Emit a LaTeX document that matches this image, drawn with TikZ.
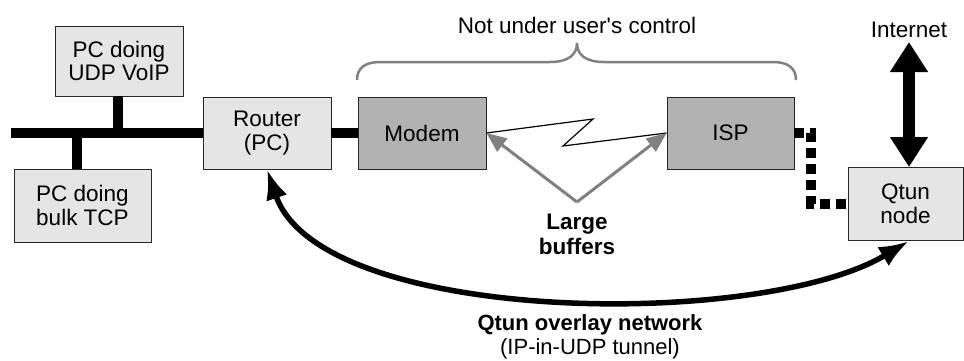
\documentclass[tikz,border=0pt]{standalone}
\usepackage{fontspec}
\setmainfont{Liberation Sans}
\usetikzlibrary{arrows.meta}
\begin{document}
\begin{tikzpicture}[x=1pt,y=-1pt,
  lbox/.style={draw=black!85, line width=0.8pt, fill=black!10, minimum width=128pt,
    minimum height=72pt, align=center, inner sep=0pt, font=\fontsize{22.5}{23.5}\selectfont},
  dbox/.style={lbox, fill=black!30},
  txt/.style={align=center, inner sep=0pt, font=\fontsize{22.5}{24}\selectfont},
  bus/.style={line width=10pt},
  grayarrow/.style={draw=black!50, line width=3pt, -{Triangle[length=20pt,width=16pt]}},
  bigarrow/.style={line width=5.5pt, {Latex[length=30pt,width=22pt]}-{Latex[length=30pt,width=22pt]}},
  netarrow/.style={line width=12pt, {Triangle[length=30pt,width=36pt]}-{Triangle[length=30pt,width=36pt]}},
  dotline/.style={line width=10pt, dash pattern=on 10pt off 6pt},
  brace/.style={draw=black!50, line width=2.5pt}
]
\useasboundingbox (0,0) rectangle (964,360);

% boxes
\node[lbox, minimum height=70pt] (voip) at (119,61) {PC doing\\UDP VoIP};
\node[lbox, minimum width=137pt, minimum height=73pt] (tcp) at (82.5,205.5) {PC doing\\bulk TCP};
\node[lbox] (router) at (267,133) {Router\\(PC)};
\node[dbox] (modem) at (422,133) {Modem};
\node[dbox, minimum width=127pt] (isp) at (730.5,133) {ISP};
\node[lbox, minimum width=115pt, minimum height=73pt] (qtun) at (905.5,203.5) {Qtun\\node};

% LAN bus
\coordinate (busL) at (11,133);
\coordinate (voipJ) at (118,133);
\coordinate (tcpJ) at (77,133);
\draw[bus] (busL) -- (router.west);
\draw[bus] (voip.south -| voipJ) -- (voipJ);
\draw[bus] (tcpJ) -- (tcp.north -| tcpJ);
\draw[bus] (router.east) -- (modem.west);

% brace
\coordinate (brL) at (357,80);
\coordinate (brR) at (796,80);
\coordinate (brT) at (577,43);
\draw[brace] (brL) .. controls (357,68) and (365,62) .. (380,62) -- (550,62)
  .. controls (568,62) and (577,55) .. (brT)
  .. controls (577,55) and (586,62) .. (604,62) -- (773,62)
  .. controls (788,62) and (796,68) .. (brR);
\node[txt] (nuc) at (577,25) {Not under user\textquotesingle s control};

% zigzag link
\coordinate (z1) at (593,119);
\coordinate (z2) at (563,146);
\draw[line width=1.2pt] (modem.east) -- (z1) -- (z2) -- (isp.west);

% large buffers
\coordinate (lbtip) at (577,202);
\node[txt, font=\fontsize{22.5}{25}\selectfont\bfseries] (lb) at (577,234) {Large\\buffers};
\draw[grayarrow] (lbtip) -- (modem.east);
\draw[grayarrow] (lbtip) -- (isp.west);

% dotted connector ISP -> Qtun
\coordinate (c1) at (811,133);
\draw[dotline] (isp.east) -- (c1) |- (qtun.west);

% Internet
\node[txt] (inet) at (909,30) {Internet};
\coordinate (inTop) at (909,42);
\coordinate (inBot) at (909,167);
\draw[netarrow] (inTop) -- (inBot);

% overlay
\coordinate (qb) at (909,241);
\draw[bigarrow] (router.south) .. controls (320,325) and (760,330) .. (qb);
\node[txt, font=\fontsize{22}{24}\selectfont] (ov) at (590,337) {\textbf{Qtun overlay network}\\(IP-in-UDP tunnel)};
\end{tikzpicture}
\end{document}
